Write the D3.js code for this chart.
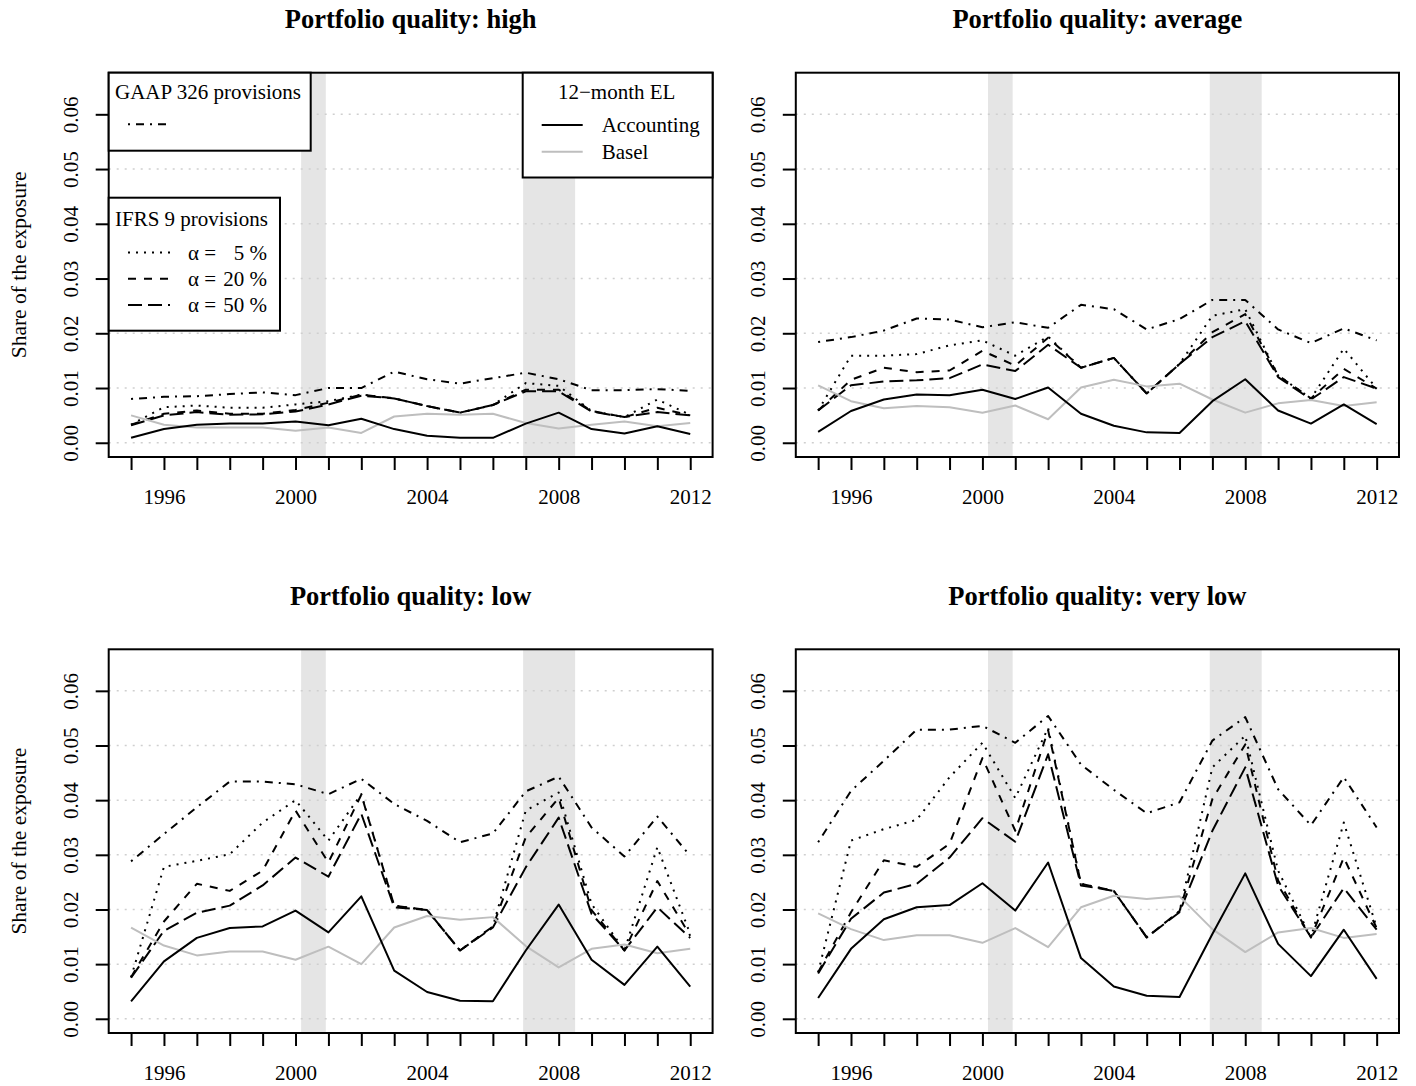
<!DOCTYPE html>
<html>
<head>
<meta charset="utf-8">
<script src="https://cdn.jsdelivr.net/npm/d3@7"></script>
<style>
  body { margin: 0; background: #fff; }
  svg text { font-family: "Liberation Serif", "Times New Roman", serif; fill: #000; }
</style>
</head>
<body>
<div id="chart"></div>
<script>
// years on the x axis, only some of them labelled
const years = [1995, 1996, 1997, 1998, 1999, 2000, 2001, 2002, 2003, 2004, 2005, 2006, 2007, 2008, 2009, 2010, 2011, 2012];
const labelledYears = [1996, 2000, 2004, 2008, 2012];
const yTicks = [0, 0.01, 0.02, 0.03, 0.04, 0.05, 0.06];
// recession bands (shaded)
const recessions = [[2000.17, 2000.92], [2006.92, 2008.5]];

const panelTitles = [
  'Portfolio quality: high',
  'Portfolio quality: average',
  'Portfolio quality: low',
  'Portfolio quality: very low',
];

// high
const accountingHigh = [0.0009, 0.0025, 0.0033, 0.0035, 0.0035, 0.0039, 0.0032, 0.0044, 0.0025, 0.0013, 0.0009, 0.0009, 0.0035, 0.0055, 0.0025, 0.0017, 0.0030, 0.0016];
const baselHigh = [0.0050, 0.0033, 0.0028, 0.0028, 0.0028, 0.0022, 0.0028, 0.0018, 0.0048, 0.0053, 0.0051, 0.0053, 0.0036, 0.0026, 0.0033, 0.0039, 0.0030, 0.0036];
const gaapHigh = [0.0080, 0.0084, 0.0085, 0.0089, 0.0092, 0.0087, 0.0100, 0.0100, 0.0130, 0.0116, 0.0108, 0.0118, 0.0128, 0.0116, 0.0096, 0.0096, 0.0098, 0.0095];
const ifrs5High = [0.0033, 0.0065, 0.0068, 0.0064, 0.0064, 0.0070, 0.0076, 0.0088, 0.0081, 0.0067, 0.0055, 0.0069, 0.0109, 0.0104, 0.0058, 0.0047, 0.0079, 0.0051];
const ifrs20High = [0.0033, 0.0053, 0.0059, 0.0053, 0.0053, 0.0060, 0.0073, 0.0088, 0.0081, 0.0067, 0.0055, 0.0069, 0.0097, 0.0097, 0.0058, 0.0047, 0.0064, 0.0050];
const ifrs50High = [0.0032, 0.0050, 0.0056, 0.0051, 0.0052, 0.0057, 0.0070, 0.0086, 0.0081, 0.0067, 0.0055, 0.0069, 0.0094, 0.0094, 0.0057, 0.0047, 0.0056, 0.0050];

// average
const accountingAvg = [0.0020, 0.0058, 0.0079, 0.0088, 0.0087, 0.0097, 0.0080, 0.0101, 0.0053, 0.0031, 0.0019, 0.0018, 0.0076, 0.0116, 0.0059, 0.0035, 0.0070, 0.0034];
const baselAvg = [0.0105, 0.0076, 0.0063, 0.0067, 0.0065, 0.0055, 0.0068, 0.0043, 0.0101, 0.0115, 0.0103, 0.0108, 0.0079, 0.0055, 0.0072, 0.0078, 0.0067, 0.0074];
const gaapAvg = [0.0184, 0.0193, 0.0205, 0.0227, 0.0225, 0.0211, 0.0220, 0.0210, 0.0252, 0.0244, 0.0207, 0.0226, 0.0261, 0.0261, 0.0207, 0.0182, 0.0209, 0.0187];
const ifrs5Avg = [0.0059, 0.0159, 0.0159, 0.0162, 0.0178, 0.0187, 0.0159, 0.0194, 0.0137, 0.0155, 0.0090, 0.0144, 0.0232, 0.0244, 0.0123, 0.0081, 0.0172, 0.0099];
const ifrs20Avg = [0.0059, 0.0115, 0.0137, 0.0129, 0.0132, 0.0168, 0.0141, 0.0192, 0.0137, 0.0155, 0.0090, 0.0144, 0.0202, 0.0235, 0.0123, 0.0081, 0.0135, 0.0099];
const ifrs50Avg = [0.0059, 0.0105, 0.0112, 0.0114, 0.0118, 0.0143, 0.0131, 0.0179, 0.0137, 0.0155, 0.0090, 0.0144, 0.0193, 0.0222, 0.0120, 0.0079, 0.0120, 0.0099];

// low
const accountingLow = [0.0032, 0.0105, 0.0148, 0.0166, 0.0169, 0.0198, 0.0158, 0.0224, 0.0088, 0.0049, 0.0033, 0.0032, 0.0125, 0.0209, 0.0108, 0.0062, 0.0132, 0.0059];
const baselLow = [0.0167, 0.0134, 0.0116, 0.0123, 0.0123, 0.0108, 0.0132, 0.0100, 0.0167, 0.0188, 0.0181, 0.0186, 0.0133, 0.0094, 0.0128, 0.0136, 0.0120, 0.0128];
const gaapLow = [0.0288, 0.0338, 0.0387, 0.0434, 0.0434, 0.0429, 0.0411, 0.0439, 0.0393, 0.0362, 0.0323, 0.0339, 0.0416, 0.0443, 0.0350, 0.0297, 0.0370, 0.0298];
const ifrs5Low = [0.0076, 0.0278, 0.0289, 0.0301, 0.0359, 0.0400, 0.0326, 0.0411, 0.0207, 0.0199, 0.0125, 0.0169, 0.0381, 0.0414, 0.0210, 0.0125, 0.0314, 0.0155];
const ifrs20Low = [0.0076, 0.0178, 0.0247, 0.0234, 0.0271, 0.0381, 0.0286, 0.0410, 0.0207, 0.0199, 0.0125, 0.0169, 0.0332, 0.0404, 0.0199, 0.0125, 0.0252, 0.0152];
const ifrs50Low = [0.0075, 0.0161, 0.0194, 0.0207, 0.0244, 0.0295, 0.0260, 0.0375, 0.0204, 0.0199, 0.0125, 0.0167, 0.0277, 0.0368, 0.0192, 0.0125, 0.0204, 0.0148];

// very low
const accountingVLow = [0.0038, 0.0128, 0.0182, 0.0204, 0.0208, 0.0248, 0.0198, 0.0286, 0.0111, 0.0059, 0.0042, 0.0040, 0.0155, 0.0266, 0.0137, 0.0078, 0.0163, 0.0073];
const baselVLow = [0.0193, 0.0164, 0.0144, 0.0153, 0.0153, 0.0139, 0.0166, 0.0131, 0.0204, 0.0225, 0.0219, 0.0224, 0.0164, 0.0122, 0.0158, 0.0166, 0.0148, 0.0155];
const gaapVLow = [0.0323, 0.0417, 0.0472, 0.0529, 0.0529, 0.0536, 0.0505, 0.0554, 0.0465, 0.0419, 0.0376, 0.0396, 0.0509, 0.0552, 0.0420, 0.0354, 0.0442, 0.0350];
const ifrs5VLow = [0.0085, 0.0326, 0.0347, 0.0364, 0.0442, 0.0505, 0.0404, 0.0532, 0.0247, 0.0234, 0.0149, 0.0197, 0.0460, 0.0518, 0.0271, 0.0149, 0.0359, 0.0167];
const ifrs20VLow = [0.0085, 0.0195, 0.0290, 0.0278, 0.0320, 0.0477, 0.0344, 0.0528, 0.0247, 0.0234, 0.0149, 0.0197, 0.0402, 0.0502, 0.0253, 0.0149, 0.0295, 0.0166];
const ifrs50VLow = [0.0083, 0.0183, 0.0231, 0.0247, 0.0295, 0.0367, 0.0324, 0.0484, 0.0244, 0.0234, 0.0149, 0.0195, 0.0344, 0.0460, 0.0244, 0.0149, 0.0239, 0.0163];

const panels = [
  { title: panelTitles[0], accounting: accountingHigh, basel: baselHigh, gaap: gaapHigh, ifrs5: ifrs5High, ifrs20: ifrs20High, ifrs50: ifrs50High },
  { title: panelTitles[1], accounting: accountingAvg, basel: baselAvg, gaap: gaapAvg, ifrs5: ifrs5Avg, ifrs20: ifrs20Avg, ifrs50: ifrs50Avg },
  { title: panelTitles[2], accounting: accountingLow, basel: baselLow, gaap: gaapLow, ifrs5: ifrs5Low, ifrs20: ifrs20Low, ifrs50: ifrs50Low },
  { title: panelTitles[3], accounting: accountingVLow, basel: baselVLow, gaap: gaapVLow, ifrs5: ifrs5VLow, ifrs20: ifrs20VLow, ifrs50: ifrs50VLow },
];

// line styles, R lty 3 / 2 / 5 / 4 at lwd 2
const styles = {
  accounting: { color: '#000', dash: null },
  basel: { color: '#bebebe', dash: null },
  gaap: { color: '#000', dash: '2,6,8,6' },
  ifrs5: { color: '#000', dash: '2,6' },
  ifrs20: { color: '#000', dash: '8,8' },
  ifrs50: { color: '#000', dash: '14,6' },
};
const drawOrder = ['gaap', 'ifrs5', 'ifrs20', 'ifrs50', 'basel', 'accounting'];

const cols = [{ left: 108.7, right: 712.6 }, { left: 795.8, right: 1399 }];
const rows = [{ top: 72.7, bottom: 457 }, { top: 649.3, bottom: 1033 }];

const svg = d3.select('#chart')
  .append('svg')
  .attr('width', 1416)
  .attr('height', 1086);

panels.forEach((panel, i) => {
  const col = cols[i % 2];
  const row = rows[Math.floor(i / 2)];

  const x = d3.scaleLinear().domain([1994.32, 2012.68]).range([col.left, col.right]);
  const y = d3.scaleLinear().domain([-0.0026, 0.0676]).range([row.bottom, row.top]);

  const g = svg.append('g');

  g.selectAll('rect.band')
    .data(recessions)
    .enter()
    .append('rect')
    .attr('x', d => x(d[0]))
    .attr('width', d => x(d[1]) - x(d[0]))
    .attr('y', row.top)
    .attr('height', row.bottom - row.top)
    .attr('fill', '#e5e5e5');

  g.selectAll('line.grid')
    .data(yTicks)
    .enter()
    .append('line')
    .attr('x1', col.left)
    .attr('x2', col.right)
    .attr('y1', d => y(d))
    .attr('y2', d => y(d))
    .attr('stroke', '#cfcfcf')
    .attr('stroke-width', 1.5)
    .attr('stroke-dasharray', '2,6');

  const line = d3.line()
    .x((d, k) => x(years[k]))
    .y(d => y(d));

  drawOrder.forEach(key => {
    g.append('path')
      .attr('d', line(panel[key]))
      .attr('fill', 'none')
      .attr('stroke', styles[key].color)
      .attr('stroke-width', 2)
      .attr('stroke-linejoin', 'round')
      .attr('stroke-dasharray', styles[key].dash);
  });

  // y axis
  const yAxis = g.append('g')
    .attr('transform', `translate(${col.left},0)`)
    .call(d3.axisLeft(y).tickValues(yTicks).tickSize(13).tickFormat(d3.format('.2f')));
  yAxis.select('.domain').remove();
  yAxis.selectAll('.tick line').attr('stroke', '#000').attr('stroke-width', 2);
  yAxis.selectAll('.tick text')
    .attr('x', null)
    .attr('dy', null)
    .attr('text-anchor', 'middle')
    .attr('transform', 'translate(-30.5,0) rotate(-90)')
    .style('font-size', '21px');

  // x axis
  const xAxis = g.append('g')
    .attr('transform', `translate(0,${row.bottom})`)
    .call(d3.axisBottom(x).tickValues(years).tickSize(13)
      .tickFormat(d => labelledYears.includes(d) ? d : ''));
  xAxis.select('.domain').remove();
  xAxis.selectAll('.tick line').attr('stroke', '#000').attr('stroke-width', 2);
  xAxis.selectAll('.tick text')
    .attr('y', 47)
    .attr('dy', null)
    .style('font-size', '21px');

  // plot box
  g.append('rect')
    .attr('x', col.left)
    .attr('y', row.top)
    .attr('width', col.right - col.left)
    .attr('height', row.bottom - row.top)
    .attr('fill', 'none')
    .attr('stroke', '#000')
    .attr('stroke-width', 2);

  g.append('text')
    .attr('x', (col.left + col.right) / 2)
    .attr('y', row.top - 44.5)
    .attr('text-anchor', 'middle')
    .style('font-size', '26.5px')
    .style('font-weight', 'bold')
    .text(panel.title);

  if (i % 2 === 0) {
    g.append('text')
      .attr('transform', `translate(26,${(row.top + row.bottom) / 2}) rotate(-90)`)
      .attr('text-anchor', 'middle')
      .style('font-size', '21.5px')
      .text('Share of the exposure');
  }

  if (i === 0) {
    drawLegends(g, col, row);
  }
});

function legendBox(g, x0, y0, x1, y1) {
  g.append('rect')
    .attr('x', x0)
    .attr('y', y0)
    .attr('width', x1 - x0)
    .attr('height', y1 - y0)
    .attr('fill', '#fff')
    .attr('stroke', '#000')
    .attr('stroke-width', 2);
}

function sampleLine(g, x0, x1, yy, key) {
  g.append('line')
    .attr('x1', x0)
    .attr('x2', x1)
    .attr('y1', yy)
    .attr('y2', yy)
    .attr('stroke', styles[key].color)
    .attr('stroke-width', 2)
    .attr('stroke-dasharray', styles[key].dash);
}

function drawLegends(g, col, row) {
  const lg = g.append('g').style('font-size', '21px');

  // GAAP 326
  legendBox(lg, col.left, row.top, 310.7, 150.7);
  lg.append('text').attr('x', 115).attr('y', 99.3).text('GAAP 326 provisions');
  sampleLine(lg, 128, 170, 124.3, 'gaap');

  // IFRS 9
  legendBox(lg, col.left, 197.7, 280, 330.7);
  lg.append('text').attr('x', 115).attr('y', 225.5).text('IFRS 9 provisions');
  const alphaRows = [['ifrs5', '5 %'], ['ifrs20', '20 %'], ['ifrs50', '50 %']];
  alphaRows.forEach((r, k) => {
    const yy = 252.5 + k * 26.2;
    sampleLine(lg, 128, 170, yy, r[0]);
    lg.append('text').attr('x', 188).attr('y', yy + 7).text('α =');
    lg.append('text').attr('x', 267).attr('y', yy + 7).attr('text-anchor', 'end').text(r[1]);
  });

  // 12-month EL
  legendBox(lg, 522.7, row.top, col.right, 177.5);
  lg.append('text').attr('x', 616.7).attr('y', 99).attr('text-anchor', 'middle').text('12−month EL');
  [['accounting', 'Accounting'], ['basel', 'Basel']].forEach((r, k) => {
    const yy = 125 + k * 26.7;
    sampleLine(lg, 541.7, 582.7, yy, r[0]);
    lg.append('text').attr('x', 601.7).attr('y', yy + 7).text(r[1]);
  });
}
</script>
</body>
</html>
